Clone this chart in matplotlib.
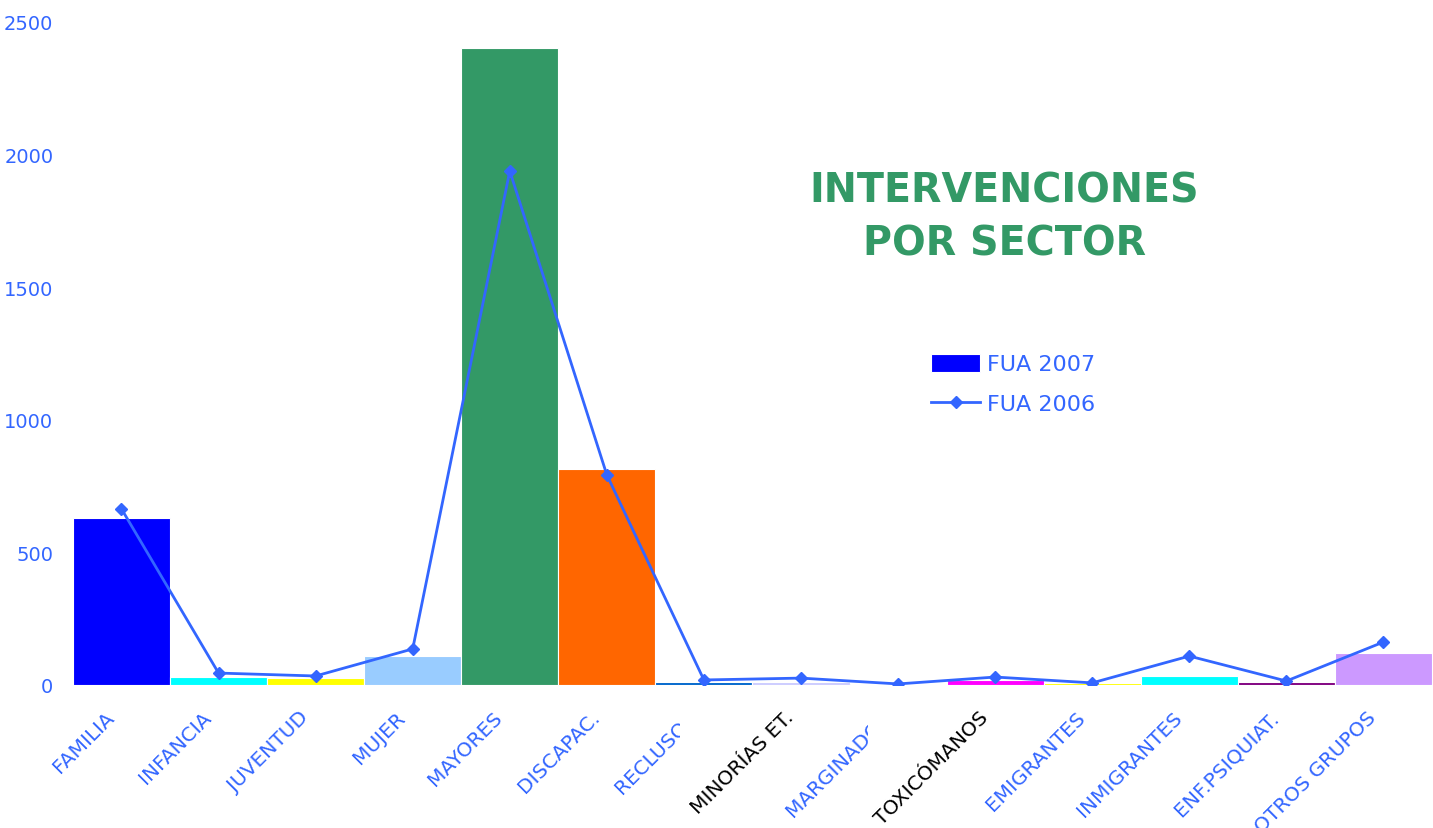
import matplotlib.pyplot as plt
import numpy as np
from matplotlib.transforms import Bbox, ScaledTranslation

# data
sectores = ["FAMILIA", "INFANCIA", "JUVENTUD", "MUJER", "MAYORES", "DISCAPAC.",
            "RECLUSOS", "MINORÍAS ET.", "MARGINADOS", "TOXICÓMANOS", "EMIGRANTES",
            "INMIGRANTES", "ENF.PSIQUIAT.", "OTROS GRUPOS"]
fua_2007 = [630, 30, 25, 110, 2400, 815, 10, 10, 3, 20, 8, 35, 10, 120]
fua_2006 = [664, 45, 34, 136, 1938, 792, 19, 26, 4, 30, 8, 109, 15, 162]
colores = ["#0000FF", "#00FFFF", "#FFFF00", "#99CCFF", "#339966", "#FF6600",
           "#0066CC", "#CCCCFF", "#000080", "#FF00FF", "#FFFF00", "#00FFFF",
           "#800080", "#CC99FF"]
color_etiqueta = ["#3366FF"] * 7 + ["black", "#3366FF", "black"] + ["#3366FF"] * 4

azul = "#3366FF"

fig = plt.figure(figsize=(14.33, 8.29), dpi=100)
ax = fig.add_axes([0.0509, 0.1725, 0.9484, 0.7998])

x = np.arange(len(sectores))
barras = ax.bar(x, fua_2007, width=1.0, color=colores, edgecolor="white",
                linewidth=0.8, label="FUA 2007")
linea, = ax.plot(x, fua_2006, color=azul, lw=2, marker="D", ms=6, label="FUA 2006")

ax.set_xlim(-0.5, len(sectores) - 0.5)
ax.set_ylim(0, 2500)
ax.set_yticks([0, 500, 1000, 1500, 2000, 2500])
ax.tick_params(axis="y", length=0, labelsize=14, labelcolor=azul, pad=14)
ax.tick_params(axis="x", length=0, pad=16)
ax.set_xticks(x)
ax.set_xticklabels(sectores, rotation=45, ha="right", rotation_mode="anchor",
                   fontsize=14.5)
desplaza = ScaledTranslation(-17 / 100, 0, fig.dpi_scale_trans)
for lab, c in zip(ax.get_xticklabels(), color_etiqueta):
    lab.set_color(c)
    lab.set_transform(lab.get_transform() + desplaza)
for s in ax.spines.values():
    s.set_visible(False)

# Excel cuts off some overlapping labels
cortes = {"RECLUSOS": 680, "MARGINADOS": 868}
for lab in ax.get_xticklabels():
    if lab.get_text() in cortes:
        lab.set_clip_box(Bbox([[0, 0], [cortes[lab.get_text()], 829]]))
        lab.set_clip_on(True)

fig.text(0.701, 0.737, "INTERVENCIONES\nPOR SECTOR", ha="center", va="center",
         fontsize=28.5, fontweight="bold", color="#339966", linespacing=1.4)

leg = ax.legend([barras, linea], ["FUA 2007", "FUA 2006"], loc="upper left",
                bbox_to_anchor=(0.617, 0.53), frameon=False,
                fontsize=16, labelcolor=azul, handlelength=2.2,
                handleheight=0.9, handletextpad=0.3, labelspacing=0.85)

fig.savefig("out.png", dpi=100)
